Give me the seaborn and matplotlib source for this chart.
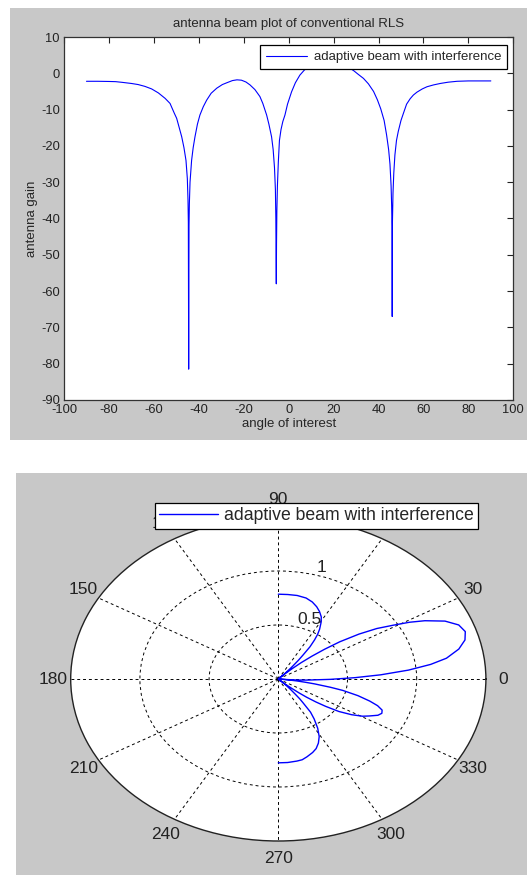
import numpy as np
import matplotlib
matplotlib.use("Agg")
import matplotlib.pyplot as plt
from matplotlib.patches import Rectangle
import seaborn as sns

# ---------------- data ----------------
angle_deg = [
    -90, -85, -80, -77, -74, -70, -67, -64, -61, -58, -55, -52.8, -50.9, -49.85,
    -48.7, -47.6, -46.6, -45.7, -45.1, -44.8, -44.65, -44.5, -44.35, -44.2, -43.9,
    -43.2, -42.5, -41.7, -40.6, -39.5, -38, -36.5, -34.5, -32, -29.5, -27.5, -25,
    -23, -21, -19, -17.2, -15, -12.8, -11.5, -9.8, -8.8, -7.6, -6.9, -6.3, -5.9,
    -5.7, -5.6, -5.5, -5.4, -5.25, -5.0, -4.6, -4.1, -3.4, -2.6, -1.65, -0.5, 1.3,
    3.0, 5.0, 7, 9, 12, 15, 18, 21, 24, 27, 29, 31, 33.3, 35.5, 37.8, 39.5, 41,
    42.5, 43.6, 44.5, 45.1, 45.6, 45.85, 46.0, 46.1, 46.2, 46.45, 46.8, 47.3, 48.0,
    48.8, 50, 51.1, 52.5, 54.1, 55.5, 57.1, 59.5, 61.6, 64.5, 67.5, 71, 75, 80, 85, 90,
]
gain_db = [
    -2.2, -2.2, -2.25, -2.3, -2.5, -2.8, -3.1, -3.6, -4.3, -5.4, -6.9, -8.3, -11.0, -12.4,
    -15.0, -17.5, -20.5, -24.0, -29.0, -35.0, -41.0, -81.5, -42.0, -36.0, -30.0,
    -24.0, -20.5, -17.5, -14.0, -11.5, -9.2, -7.4, -5.5, -4.1, -3.1, -2.6, -2.0,
    -1.8, -1.9, -2.4, -3.2, -4.5, -6.4, -8.3, -11.5, -14.0, -17.5, -21.0, -26.0, -32.0,
    -40.0, -50.5, -58.0, -47.0, -38.0, -31.0, -24.5, -18.5, -15.5, -13.3, -11.5, -8.5, -5.1,
    -2.6, -0.5, 0.9, 1.8, 2.5, 2.9, 3.05, 2.9, 2.4, 1.5, 0.7, -0.3, -1.4, -2.9, -5.0, -7.3, -9.8,
    -13.0, -17.0, -21.0, -25.0, -31.0, -36.5, -42.0, -67.0, -41.0, -33.0, -27.5, -22.5, -18.5,
    -16.0, -13.0, -11.0, -8.5, -7.0, -6.0, -5.2, -4.3, -3.7, -3.2, -2.8, -2.45, -2.2, -2.1, -2.1, -2.1,
]
series_label = "adaptive beam with interference"
x_ticks = list(range(-100, 101, 20))
y_ticks = list(range(-90, 11, 10))
theta_ticks = list(range(0, 360, 30))
r_ticks = [0.5, 1.0]
r_tick_labels = ["0.5", "1"]
r_max = 1.5

# ---------------- style ----------------
sns.set_style("white")
plt.rcParams["font.family"] = ["Liberation Sans", "DejaVu Sans"]
plt.rcParams["axes.unicode_minus"] = False

W, H = 527, 875
fig = plt.figure(figsize=(W / 100, H / 100), dpi=100, facecolor="white")

gray = "#c8c8c8"
fig.patches.append(Rectangle((10 / W, 1 - 440 / H), 517 / W, 432 / H,
                             transform=fig.transFigure, facecolor=gray,
                             edgecolor="none", zorder=-10))
fig.patches.append(Rectangle((16 / W, 0), 511 / W, 402 / H,
                             transform=fig.transFigure, facecolor=gray,
                             edgecolor="none", zorder=-10))

# ---------------- top: cartesian beam plot ----------------
ax1 = fig.add_axes([64 / W, 1 - 400 / H, 449.3 / W, 363 / H])
ax1.set_facecolor("white")
sns.lineplot(x=angle_deg, y=gain_db, ax=ax1, color="blue", linewidth=0.8,
             label=series_label, estimator=None, sort=False)
ax1.set_xlim(-100, 100)
ax1.set_ylim(-90, 10)
ax1.set_xticks(x_ticks)
ax1.set_yticks(y_ticks)
ax1.tick_params(direction="in", length=4, width=0.8, top=True, right=True,
                labelsize=9.3, pad=3, colors="#222222")
for s in ax1.spines.values():
    s.set_color("#333333")
    s.set_linewidth(0.9)
ax1.set_title("antenna beam plot of conventional RLS", fontsize=9.5, pad=7)
ax1.set_xlabel("angle of interest", fontsize=9.5, labelpad=1)
ax1.set_ylabel("antenna gain", fontsize=9.5, labelpad=2)
leg1 = ax1.legend(loc="upper right", bbox_to_anchor=(0.986, 0.978),
                  borderaxespad=0, frameon=True, fancybox=False,
                  edgecolor="black", framealpha=1, fontsize=9.5,
                  handlelength=3.1, handletextpad=0.5, borderpad=0.45)
leg1.get_frame().set_linewidth(0.9)

# ---------------- bottom: polar beam plot ----------------
theta = np.deg2rad(angle_deg)
rho = np.power(10.0, np.asarray(gain_db) / 20.0)

ax2 = fig.add_axes([70.7 / W, 1 - 841 / H, 415.2 / W, 324 / H], projection="polar")
ax2.set_aspect("auto")
sns.lineplot(x=theta, y=rho, ax=ax2, color="blue", linewidth=1.0,
             label=series_label, estimator=None, sort=False)
ax2.set_ylim(0, r_max)
ax2.set_thetagrids(theta_ticks, labels=[str(t) for t in theta_ticks])
ax2.set_rgrids(r_ticks, labels=r_tick_labels)
ax2.set_rlabel_position(74)
ax2.grid(True, color="black", linestyle=(0, (3, 3)), linewidth=0.7)
ax2.spines["polar"].set_color("#222222")
ax2.spines["polar"].set_linewidth(1.0)
ax2.tick_params(axis="x", labelsize=12.5, pad=2, colors="#222222")
ax2.tick_params(axis="y", labelsize=12.5, colors="#222222")
ax2.set_xlabel("")
ax2.set_ylabel("")
leg2 = ax2.legend(loc="upper right", bbox_to_anchor=(478 / W, 1 - 502.7 / H),
                  bbox_transform=fig.transFigure, borderaxespad=0, frameon=True,
                  fancybox=False, edgecolor="black", framealpha=1, fontsize=12.7,
                  handlelength=3.3, handletextpad=0.35, borderpad=0.25)
leg2.get_frame().set_linewidth(0.9)
leg2.set_zorder(10)

fig.savefig("out.png", dpi=100, facecolor="white")
